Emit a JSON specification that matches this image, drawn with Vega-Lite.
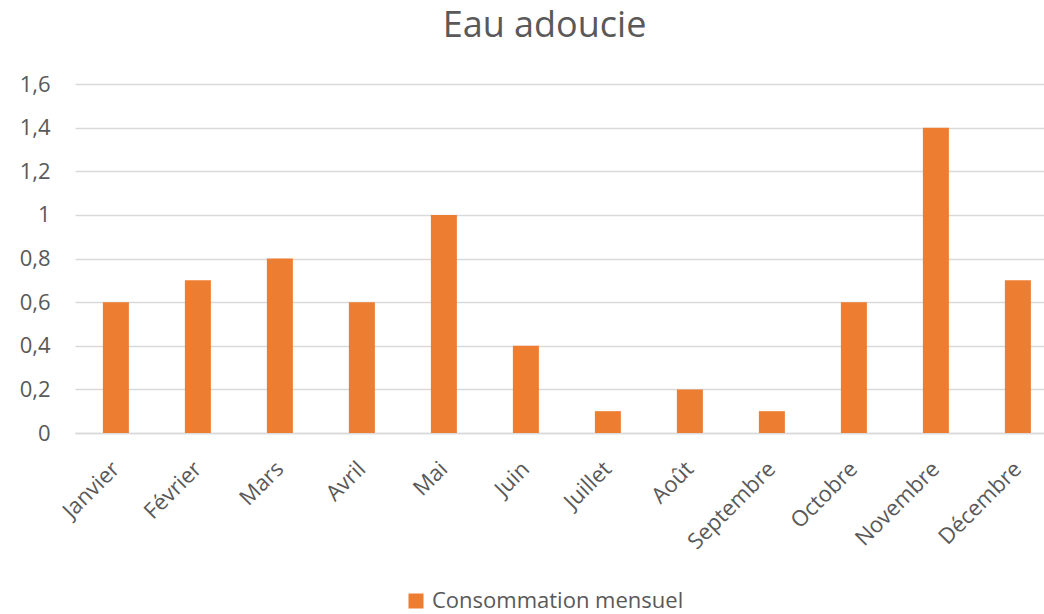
{
  "$schema": "https://vega.github.io/schema/vega-lite/v6.json",
  "autosize": {"type": "none"},
  "padding": {"left": 75, "top": 84, "right": 0, "bottom": 181},
  "width": 969,
  "height": 349,
  "background": "white",
  "title": {
    "text": "Eau adoucie",
    "anchor": "middle",
    "frame": "group",
    "orient": "top",
    "baseline": "alphabetic",
    "offset": 0,
    "dx": -15,
    "font": "Open Sans",
    "fontSize": 36,
    "fontWeight": "normal",
    "color": "#595959"
  },
  "data": {
    "values": [
      {"mois": "Janvier", "valeur": 0.6, "serie": "Consommation mensuel"},
      {"mois": "Février", "valeur": 0.7, "serie": "Consommation mensuel"},
      {"mois": "Mars", "valeur": 0.8, "serie": "Consommation mensuel"},
      {"mois": "Avril", "valeur": 0.6, "serie": "Consommation mensuel"},
      {"mois": "Mai", "valeur": 1.0, "serie": "Consommation mensuel"},
      {"mois": "Juin", "valeur": 0.4, "serie": "Consommation mensuel"},
      {"mois": "Juillet", "valeur": 0.1, "serie": "Consommation mensuel"},
      {"mois": "Août", "valeur": 0.2, "serie": "Consommation mensuel"},
      {"mois": "Septembre", "valeur": 0.1, "serie": "Consommation mensuel"},
      {"mois": "Octobre", "valeur": 0.6, "serie": "Consommation mensuel"},
      {"mois": "Novembre", "valeur": 1.4, "serie": "Consommation mensuel"},
      {"mois": "Décembre", "valeur": 0.7, "serie": "Consommation mensuel"}
    ]
  },
  "mark": {"type": "bar"},
  "encoding": {
    "x": {
      "field": "mois",
      "type": "nominal",
      "sort": null,
      "scale": {"paddingInner": 0.683, "paddingOuter": 0.25, "align": 0.68},
      "axis": {
        "title": null,
        "labelAngle": -45,
        "labelAlign": "right",
        "labelBaseline": "middle",
        "labelPadding": 32,
        "labelFont": "Open Sans",
        "labelFontSize": 22,
        "labelColor": "#595959",
        "ticks": false,
        "domain": true,
        "domainColor": "#d9d9d9",
        "domainWidth": 1.5,
        "grid": false
      }
    },
    "y": {
      "field": "valeur",
      "type": "quantitative",
      "scale": {"domain": [0, 1.6], "nice": false},
      "axis": {
        "title": null,
        "values": [0, 0.2, 0.4, 0.6, 0.8, 1, 1.2, 1.4, 1.6],
        "labelExpr": "replace(format(datum.value, '~g'), '.', ',')",
        "labelFont": "Open Sans",
        "labelFontSize": 22,
        "labelColor": "#595959",
        "labelPadding": 25,
        "ticks": false,
        "domain": false,
        "grid": true,
        "gridColor": "#d9d9d9",
        "gridWidth": 1.5
      }
    },
    "color": {
      "field": "serie",
      "type": "nominal",
      "scale": {"range": ["#ED7D31"]},
      "legend": {
        "title": null,
        "orient": "none",
        "legendX": 330,
        "legendY": 506,
        "symbolType": "square",
        "symbolSize": 225,
        "symbolStrokeWidth": 0,
        "symbolOpacity": 1,
        "labelFont": "Open Sans",
        "labelFontSize": 22,
        "labelLimit": 500,
        "labelColor": "#595959",
        "labelOffset": 5
      }
    }
  },
  "config": {"view": {"stroke": null}}
}
